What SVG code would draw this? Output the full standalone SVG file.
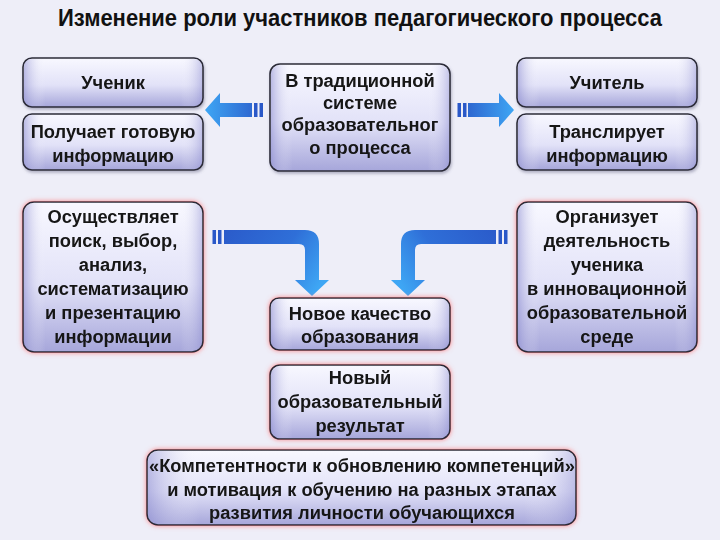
<svg xmlns="http://www.w3.org/2000/svg" width="720" height="540" viewBox="0 0 720 540">
<defs>
<linearGradient id="boxg" x1="0" y1="0" x2="0" y2="1">
<stop offset="0" stop-color="#f8f8ff"/>
<stop offset="0.55" stop-color="#e2e2f8"/>
<stop offset="1" stop-color="#a6a6da"/>
</linearGradient>
<linearGradient id="edgeg" x1="0" y1="0" x2="1" y2="0">
<stop offset="0" stop-color="#8c8cd0" stop-opacity="0.55"/>
<stop offset="0.12" stop-color="#ffffff" stop-opacity="0"/>
<stop offset="0.88" stop-color="#ffffff" stop-opacity="0"/>
<stop offset="1" stop-color="#8c8cd0" stop-opacity="0.45"/>
</linearGradient>
<linearGradient id="arrL" gradientUnits="userSpaceOnUse" x1="265" y1="0" x2="205" y2="0">
<stop offset="0" stop-color="#2a58c8"/>
<stop offset="1" stop-color="#3ea6f4"/>
</linearGradient>
<linearGradient id="arrR" gradientUnits="userSpaceOnUse" x1="457" y1="0" x2="514" y2="0">
<stop offset="0" stop-color="#2a58c8"/>
<stop offset="1" stop-color="#3ea6f4"/>
</linearGradient>
<linearGradient id="arrBL" gradientUnits="userSpaceOnUse" x1="213" y1="230" x2="312" y2="296">
<stop offset="0" stop-color="#2a58c8"/>
<stop offset="0.6" stop-color="#2f6fd8"/>
<stop offset="1" stop-color="#3ea6f4"/>
</linearGradient>
<linearGradient id="arrBR" gradientUnits="userSpaceOnUse" x1="507" y1="230" x2="408" y2="296">
<stop offset="0" stop-color="#2a58c8"/>
<stop offset="0.6" stop-color="#2f6fd8"/>
<stop offset="1" stop-color="#3ea6f4"/>
</linearGradient>
<filter id="shadow" x="-10%" y="-10%" width="120%" height="130%">
<feDropShadow dx="1" dy="2" stdDeviation="1.5" flood-color="#606080" flood-opacity="0.45"/>
</filter>
<filter id="glow" x="-10%" y="-10%" width="120%" height="125%">
<feDropShadow dx="0" dy="0" stdDeviation="2.5" flood-color="#ff6a6a" flood-opacity="0.8"/>
</filter>
</defs>
<style>
.bx{fill:url(#boxg);stroke:#2b2b38;stroke-width:1.6}
.ed{fill:url(#edgeg);stroke:none}
.t{font-family:"Liberation Sans",Arial,sans-serif;font-weight:bold;font-size:18.3px;fill:#141414;text-anchor:middle}
.title{font-family:"Liberation Sans Narrow","Liberation Sans",Arial,sans-serif;font-weight:bold;font-size:23px;fill:#111;text-anchor:middle}
</style>
<rect width="720" height="540" fill="#eeeef8"/>
<text class="title" x="360" y="26" textLength="604" lengthAdjust="spacingAndGlyphs">Изменение роли участников педагогического процесса</text>

<g id="connectors">
<path fill="url(#arrL)" d="M252,103 H220 V93 L205,110 L220,127 V117 H252 Z"/>
<rect x="254" y="103" width="3.5" height="14" fill="#2a58c8"/>
<rect x="259.5" y="103" width="3.5" height="14" fill="#2a58c8"/>
<path fill="url(#arrR)" d="M468,103 H499 V93 L514,110 L499,127 V117 H468 Z"/>
<rect x="463" y="103" width="3.5" height="14" fill="#2a58c8"/>
<rect x="457.5" y="103" width="3.5" height="14" fill="#2a58c8"/>
<path fill="url(#arrBL)" d="M224,230 H305 Q319,230 319,244 V280 H329 L312,296 L295,280 H305 V250 Q305,244 299,244 H224 Z"/>
<rect x="218" y="230" width="3.5" height="14" fill="#2a58c8"/>
<rect x="212.5" y="230" width="3.5" height="14" fill="#2a58c8"/>
<path fill="url(#arrBR)" d="M496,230 H415 Q401,230 401,244 V280 H391 L408,296 L425,280 H415 V250 Q415,244 421,244 H496 Z"/>
<rect x="498.5" y="230" width="3.5" height="14" fill="#2a58c8"/>
<rect x="504" y="230" width="3.5" height="14" fill="#2a58c8"/>
</g>

<g id="uchenik" filter="url(#shadow)">
<rect class="bx" x="23" y="58" width="180" height="49" rx="9"/>
<rect class="ed" x="24" y="59" width="178" height="47" rx="8"/>
<text class="t" x="113" y="89">Ученик</text>
</g>
<g id="poluchaet" filter="url(#shadow)">
<rect class="bx" x="23" y="114" width="180" height="56" rx="9"/>
<rect class="ed" x="24" y="115" width="178" height="54" rx="8"/>
<text class="t" x="113" y="138">Получает готовую</text>
<text class="t" x="113" y="162">информацию</text>
</g>
<g id="tradition" filter="url(#shadow)">
<rect class="bx" x="270" y="64" width="180" height="107" rx="10"/>
<rect class="ed" x="271" y="65" width="178" height="105" rx="9"/>
<text class="t" x="360" y="87">В традиционной</text>
<text class="t" x="360" y="109">системе</text>
<text class="t" x="360" y="131">образовательног</text>
<text class="t" x="360" y="154">о процесса</text>
</g>
<g id="uchitel" filter="url(#shadow)">
<rect class="bx" x="517" y="58" width="180" height="49" rx="9"/>
<rect class="ed" x="518" y="59" width="178" height="47" rx="8"/>
<text class="t" x="607" y="89">Учитель</text>
</g>
<g id="translyruet" filter="url(#shadow)">
<rect class="bx" x="517" y="114" width="180" height="56" rx="9"/>
<rect class="ed" x="518" y="115" width="178" height="54" rx="8"/>
<text class="t" x="607" y="138">Транслирует</text>
<text class="t" x="607" y="162">информацию</text>
</g>
<g id="osushestvlyaet" filter="url(#glow)">
<rect class="bx" x="23" y="202" width="180" height="150" rx="11"/>
<rect class="ed" x="24" y="203" width="178" height="148" rx="10"/>
<text class="t" x="113" y="223">Осуществляет</text>
<text class="t" x="113" y="247">поиск, выбор,</text>
<text class="t" x="113" y="271">анализ,</text>
<text class="t" x="113" y="295">систематизацию</text>
<text class="t" x="113" y="319">и презентацию</text>
<text class="t" x="113" y="343">информации</text>
</g>
<g id="organizuet" filter="url(#glow)">
<rect class="bx" x="517" y="202" width="180" height="150" rx="11"/>
<rect class="ed" x="518" y="203" width="178" height="148" rx="10"/>
<text class="t" x="607" y="223">Организует</text>
<text class="t" x="607" y="247">деятельность</text>
<text class="t" x="607" y="271">ученика</text>
<text class="t" x="607" y="295">в инновационной</text>
<text class="t" x="607" y="319">образовательной</text>
<text class="t" x="607" y="343">среде</text>
</g>
<g id="novoe-kachestvo" filter="url(#glow)">
<rect class="bx" x="270" y="298" width="180" height="52" rx="9"/>
<rect class="ed" x="271" y="299" width="178" height="50" rx="8"/>
<text class="t" x="360" y="320">Новое качество</text>
<text class="t" x="360" y="343">образования</text>
</g>
<g id="novyi-rezultat" filter="url(#glow)">
<rect class="bx" x="270" y="365" width="180" height="74" rx="10"/>
<rect class="ed" x="271" y="366" width="178" height="72" rx="9"/>
<text class="t" x="360" y="384">Новый</text>
<text class="t" x="360" y="408">образовательный</text>
<text class="t" x="360" y="432">результат</text>
</g>
<g id="kompetentnosti" filter="url(#glow)">
<rect class="bx" x="147" y="450" width="429" height="75" rx="11"/>
<rect class="ed" x="148" y="451" width="427" height="73" rx="10"/>
<text class="t" x="362" y="472">«Компетентности к обновлению компетенций»</text>
<text class="t" x="362" y="496">и мотивация к обучению на разных этапах</text>
<text class="t" x="362" y="519">развития личности обучающихся</text>
</g>
</svg>
